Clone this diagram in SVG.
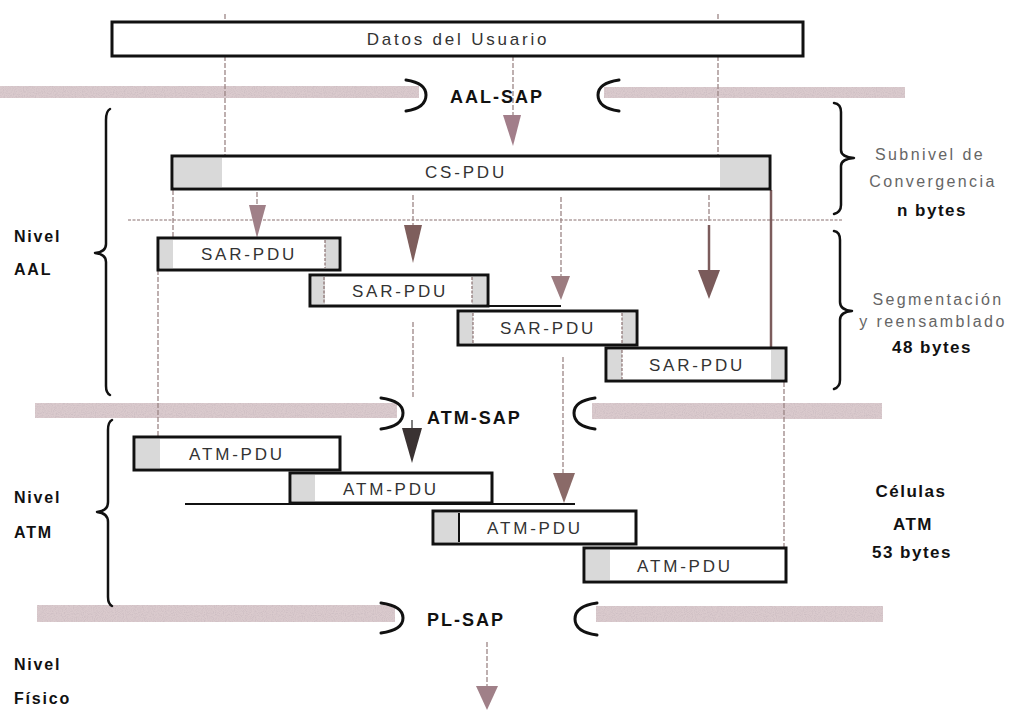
<svg xmlns="http://www.w3.org/2000/svg" width="1025" height="713" viewBox="0 0 1025 713">
<defs>
<style>
.box{fill:#fff;stroke:#111;stroke-width:3}
.sh{fill:#d9d9d9;stroke:none}
.div{stroke:#8a7070;stroke-width:1.2;stroke-dasharray:3 1.5}
.band{fill:#dacacd}
.brk{fill:none;stroke:#111;stroke-width:3;stroke-linecap:round}
.guide{stroke:#9c8686;stroke-width:1.3;stroke-dasharray:5 2;fill:none}
.shaft{stroke:#7c5c5c;stroke-width:2.5;fill:none}
.brace{fill:none;stroke:#111;stroke-width:2.5;stroke-linejoin:round;stroke-linecap:round}
.lbl{font-family:"Liberation Sans",Arial,sans-serif;font-size:17px;letter-spacing:2.8px;fill:#333;text-anchor:middle}
.sap{font-family:"Liberation Sans",Arial,sans-serif;font-size:18px;font-weight:bold;letter-spacing:2px;fill:#111}
.side{font-family:"Liberation Sans",Arial,sans-serif;font-size:16px;font-weight:bold;letter-spacing:1.8px;fill:#111}
.note{font-family:"Liberation Sans",Arial,sans-serif;font-size:16px;letter-spacing:2.4px;fill:#666;text-anchor:middle}
.bold{font-family:"Liberation Sans",Arial,sans-serif;font-size:17px;font-weight:bold;letter-spacing:1.5px;fill:#111;text-anchor:middle}
</style>
<filter id="grain" x="0" y="0" width="100%" height="100%">
<feTurbulence type="fractalNoise" baseFrequency="0.9" numOctaves="1" seed="4" result="n"/>
<feColorMatrix in="n" type="matrix" values="0 0 0 0 0.62  0 0 0 0 0.52  0 0 0 0 0.55  0 0 0 3 -1.25" result="c"/>
<feComposite in="c" in2="SourceGraphic" operator="in" result="d"/>
<feMerge><feMergeNode in="SourceGraphic"/><feMergeNode in="d"/></feMerge>
</filter>
</defs>
<rect width="1025" height="713" fill="#fff"/>

<!-- SAP bands -->
<g id="bands" filter="url(#grain)">
<rect class="band" x="0" y="86" width="419" height="12"/>
<rect class="band" x="604" y="87" width="301" height="11"/>
<rect class="band" x="35" y="403" width="362" height="15"/>
<rect class="band" x="592" y="403" width="290" height="16"/>
<rect class="band" x="37" y="605" width="358" height="17"/>
<rect class="band" x="596" y="606" width="287" height="16"/>
</g>

<!-- connectors -->
<g id="connectors">
<line class="guide" x1="225" y1="14" x2="225" y2="190"/>
<line class="guide" x1="718" y1="14" x2="718" y2="190"/>
<line class="guide" x1="513" y1="56" x2="513" y2="115"/>
<line class="div" x1="128" y1="220" x2="843" y2="220"/>
<line class="guide" x1="173" y1="190" x2="173" y2="238"/>
<line class="guide" x1="257" y1="192" x2="257" y2="205"/>
<line class="guide" x1="413" y1="195" x2="413" y2="225"/>
<line class="guide" x1="561" y1="197" x2="561" y2="278"/>
<line class="guide" x1="709" y1="195" x2="709" y2="222"/>
<line class="shaft" x1="709" y1="225" x2="709" y2="272"/>
<line class="shaft" x1="771" y1="190" x2="771" y2="348" stroke-width="2"/>
<line class="guide" x1="158" y1="270" x2="158" y2="437"/>
<line class="guide" x1="413" y1="322" x2="413" y2="397"/>
<line class="guide" x1="563" y1="357" x2="563" y2="475" stroke="#8a6a68" stroke-width="2"/>
<line class="guide" x1="784" y1="382" x2="784" y2="548"/>
<line class="guide" x1="487" y1="642" x2="487" y2="688" stroke="#8a7070"/>
<line x1="412" y1="420" x2="412" y2="430" stroke="#555" stroke-width="1.5"/>
<!-- arrowheads -->
<polygon points="503,115 521,115 513,146" fill="#a27e8a"/>
<polygon points="249,205 266,205 257,238" fill="#a08088"/>
<polygon points="404,225 422,225 413,263" fill="#7e5e5c"/>
<polygon points="551,276 570,276 561,300" fill="#9c7c80"/>
<polygon points="698,270 720,270 709,299" fill="#7a5a5a"/>
<polygon points="402,428 422,428 412,463" fill="#3a3232"/>
<polygon points="553,473 575,473 564,503" fill="#8a6a68"/>
<polygon points="476,686 498,686 487,710" fill="#a08088"/>
<!-- black extension lines -->
<line x1="185" y1="504" x2="575" y2="504" stroke="#111" stroke-width="2"/>
<line x1="488" y1="306" x2="561" y2="306" stroke="#111" stroke-width="2"/>
</g>

<!-- SAP brackets and labels -->
<g id="aal-sap">
<path class="brk" d="M406,80 Q426,83 426,95 Q426,108 406,111"/>
<path class="brk" d="M619,80 Q598,83 598,95 Q598,108 619,111"/>
<text class="sap" x="450" y="103">AAL-SAP</text>
</g>
<g id="atm-sap">
<path class="brk" d="M381,398 Q403,401 403,413 Q403,426 381,429"/>
<path class="brk" d="M595,398 Q574,401 574,413 Q574,426 595,429"/>
<text class="sap" x="427" y="424">ATM-SAP</text>
</g>
<g id="pl-sap">
<path class="brk" d="M381,603 Q403,606 403,618 Q403,630 381,633"/>
<path class="brk" d="M597,603 Q575,606 575,619 Q575,632 597,635"/>
<text class="sap" x="427" y="626">PL-SAP</text>
</g>

<!-- Datos del Usuario -->
<g id="datos">
<rect class="box" x="112" y="22" width="691" height="34"/>
<text class="lbl" x="458" y="45">Datos del Usuario</text>
</g>

<!-- CS-PDU -->
<g id="cs-pdu">
<rect class="box" x="172" y="156" width="598" height="33"/>
<rect class="sh" x="174" y="158" width="48" height="29"/>
<rect class="sh" x="720" y="158" width="48" height="29"/>
<text class="lbl" x="466" y="178">CS-PDU</text>
</g>

<!-- SAR-PDUs -->
<g id="sar1">
<rect class="box" x="158" y="238" width="182" height="32"/>
<rect class="sh" x="160" y="240" width="13" height="28"/>
<rect class="sh" x="325" y="240" width="13" height="28"/>
<line class="div" x1="325" y1="240" x2="325" y2="268"/>
<text class="lbl" x="249" y="260">SAR-PDU</text>
</g>
<g id="sar2">
<rect class="box" x="310" y="275" width="178" height="31"/>
<rect class="sh" x="312" y="277" width="13" height="27"/>
<rect class="sh" x="472" y="277" width="14" height="27"/>
<line class="div" x1="324" y1="277" x2="324" y2="304"/>
<line class="div" x1="472" y1="277" x2="472" y2="304"/>
<text class="lbl" x="400" y="297">SAR-PDU</text>
</g>
<g id="sar3">
<rect class="box" x="458" y="311" width="179" height="34"/>
<rect class="sh" x="460" y="313" width="13" height="30"/>
<rect class="sh" x="622" y="313" width="13" height="30"/>
<line class="div" x1="473" y1="313" x2="473" y2="343"/>
<line class="div" x1="622" y1="313" x2="622" y2="343"/>
<text class="lbl" x="548" y="334">SAR-PDU</text>
</g>
<g id="sar4">
<rect class="box" x="606" y="348" width="180" height="33"/>
<rect class="sh" x="608" y="350" width="14" height="29"/>
<rect class="sh" x="771" y="350" width="13" height="29"/>
<line class="div" x1="622" y1="350" x2="622" y2="379"/>
<text class="lbl" x="697" y="371">SAR-PDU</text>
</g>

<!-- ATM-PDUs -->
<g id="atm1">
<rect class="box" x="134" y="437" width="206" height="33"/>
<rect class="sh" x="136" y="439" width="24" height="29"/>
<text class="lbl" x="237" y="460">ATM-PDU</text>
</g>
<g id="atm2">
<rect class="box" x="290" y="473" width="202" height="30"/>
<rect class="sh" x="292" y="475" width="23" height="26"/>
<text class="lbl" x="391" y="495">ATM-PDU</text>
</g>
<g id="atm3">
<rect class="box" x="433" y="511" width="203" height="33"/>
<rect class="sh" x="435" y="513" width="24" height="29"/>
<line x1="459" y1="513" x2="459" y2="542" stroke="#111" stroke-width="2"/>
<text class="lbl" x="535" y="534">ATM-PDU</text>
</g>
<g id="atm4">
<rect class="box" x="584" y="548" width="202" height="34"/>
<rect class="sh" x="586" y="550" width="24" height="30"/>
<text class="lbl" x="685" y="572">ATM-PDU</text>
</g>

<!-- braces -->
<g id="brace-aal">
<path class="brace" d="M110,109 Q106,111 106,120 L106,244 Q106,252 95,253 Q106,254 106,262 L106,386 Q106,393 110,395"/>
<text class="side" x="14" y="242">Nivel</text>
<text class="side" x="14" y="275">AAL</text>
</g>
<g id="brace-atm">
<path class="brace" d="M112,420 Q108,422 108,430 L108,502 Q108,511 97,512 Q108,513 108,522 L108,597 Q108,604 112,606"/>
<text class="side" x="14" y="503">Nivel</text>
<text class="side" x="14" y="538">ATM</text>
</g>
<g id="nivel-fisico">
<text class="side" x="14" y="670">Nivel</text>
<text class="side" x="14" y="704">Físico</text>
</g>
<g id="brace-cs">
<path class="brace" d="M834,103 Q841,104 841,112 L841,150 Q841,157 854,158 Q841,159 841,166 L841,205 Q841,212 834,214"/>
<text class="note" x="930" y="160">Subnivel de</text>
<text class="note" x="933" y="187">Convergencia</text>
<text class="bold" x="932" y="216">n bytes</text>
</g>
<g id="brace-sar">
<path class="brace" d="M834,231 Q840,232 840,240 L840,302 Q840,310 852,311 Q840,312 840,320 L840,380 Q840,387 834,389"/>
<text class="note" x="938" y="305">Segmentación</text>
<text class="note" x="933" y="327">y reensamblado</text>
<text class="bold" x="932" y="353">48 bytes</text>
</g>
<g id="celulas">
<text class="bold" x="911" y="497">Células</text>
<text class="bold" x="913" y="530">ATM</text>
<text class="bold" x="912" y="558">53 bytes</text>
</g>
</svg>
